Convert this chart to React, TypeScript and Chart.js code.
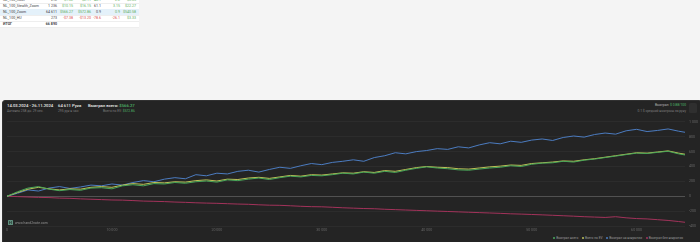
import React, { useEffect, useRef } from "react";
import { Chart, registerables } from "chart.js";
Chart.register(...registerables);

const hands = [
  0, 1000, 2000, 3000, 4000, 5000, 6000, 7000, 8000, 9000,
  10000, 11000, 12000, 13000, 14000, 15000, 16000, 17000, 18000, 19000,
  20000, 21000, 22000, 23000, 24000, 25000, 26000, 27000, 28000, 29000,
  30000, 31000, 32000, 33000, 34000, 35000, 36000, 37000, 38000, 39000,
  40000, 41000, 42000, 43000, 44000, 45000, 46000, 47000, 48000, 49000,
  50000, 51000, 52000, 53000, 54000, 55000, 56000, 57000, 58000, 59000,
  60000, 61000, 62000, 63000, 64000, 64611,
];

const wonTotal = [
  0, 60, 110, 130, 95, 75, 90, 80, 110, 115,
  100, 140, 155, 140, 170, 165, 185, 175, 195, 205,
  190, 220, 210, 230, 245, 225, 250, 270, 260, 280,
  275, 290, 310, 300, 325, 310, 335, 320, 350, 375,
  395, 380, 370, 355, 350, 365, 380, 390, 410, 400,
  430, 445, 450, 470, 460, 485, 500, 520, 540, 560,
  580, 575, 590, 605, 570, 555,
];

const evTotal = [
  0, 50, 95, 120, 100, 85, 100, 95, 120, 130,
  120, 150, 170, 160, 185, 180, 195, 190, 210, 220,
  205, 230, 225, 245, 255, 240, 260, 280, 270, 290,
  285, 300, 315, 310, 330, 320, 345, 335, 360, 385,
  400, 390, 385, 370, 365, 380, 395, 405, 420, 415,
  440, 450, 460, 475, 470, 490, 505, 525, 545, 565,
  585, 580, 595, 610, 580, 565,
];

const showdown = [
  0, 40, 85, 70, 110, 130, 105, 125, 150, 140,
  165, 150, 185, 210, 195, 230, 250, 235, 290, 275,
  310, 300, 335, 350, 325, 360, 390, 375, 410, 440,
  425, 455, 470, 490, 470, 520, 545, 585, 570, 600,
  615, 640, 630, 665, 650, 690, 720, 705, 740, 725,
  755, 770, 750, 790, 810, 795, 830, 850, 835, 880,
  900, 870, 885, 905, 875, 860,
];

const nonShowdown = [
  0, -5, -10, -15, -18, -25, -28, -35, -40, -45,
  -50, -52, -58, -65, -68, -72, -78, -82, -88, -92,
  -95, -100, -105, -108, -115, -120, -122, -128, -135, -140,
  -142, -148, -155, -160, -165, -168, -175, -180, -185, -190,
  -195, -200, -205, -210, -215, -220, -225, -230, -236, -240,
  -245, -250, -256, -262, -268, -275, -280, -285, -275, -290,
  -300, -305, -315, -325, -340, -350,
];

const seriesNames = ["Выиграл всего", "Всего по EV", "Выиграл на вскрытии", "Выиграл без вскрытия"];
const seriesColors = ["#4aa85a", "#bfc258", "#4c7cc0", "#a3335b"];
const seriesValues = [wonTotal, evTotal, showdown, nonShowdown];

const xTicks = [0, 10000, 20000, 30000, 40000, 50000, 60000];
const yTicks = [-400, -200, 0, 200, 400, 600, 800, 1000];

const fmt = (v: number) => {
  const s = Math.abs(v).toString().replace(/\B(?=(\d{3})+(?!\d))/g, " ");
  return (v < 0 ? "-" : "") + s;
};

const tableRows = [
  { name: "NL_100_Rush", hands: "212", c: ["$1.02", "$2.11", "48.1", "2.2", "$3.05"], cls: [1, 1, 1, 1, 1], hl: false, bold: false },
  { name: "NL_100_Stealth_Zoom", hands: "1 236", c: ["$10.15", "$16.15", "61.1", "3.15", "$22.27"], cls: [1, 1, 0, 1, 1], hl: false, bold: false },
  { name: "NL_100_Zoom", hands: "64 611", c: ["$566.27", "$572.86", "0.9", "0.9", "$540.58"], cls: [1, 1, 0, 1, 1], hl: true, bold: false },
  { name: "NL_100_HU", hands: "273", c: ["-$7.38", "-$13.20", "-78.6", "-26.1", "$3.33"], cls: [2, 2, 2, 2, 1], hl: false, bold: false },
  { name: "ИТОГ", hands: "66 890", c: ["", "", "", "", ""], cls: [0, 0, 0, 0, 0], hl: false, bold: true },
];
const colRight = [57, 73, 91, 101, 120, 136];

export default function App() {
  const ref = useRef<HTMLCanvasElement>(null);

  useEffect(() => {
    if (!ref.current) return;
    const chart = new Chart(ref.current, {
      type: "line",
      data: {
        datasets: seriesNames.map((name, i) => ({
          label: name,
          data: hands.map((h, j) => ({ x: h, y: seriesValues[i][j] })),
          borderColor: seriesColors[i],
          backgroundColor: seriesColors[i],
          borderWidth: 1,
          pointRadius: 0,
          tension: 0,
        })),
      },
      options: {
        animation: false,
        responsive: false,
        maintainAspectRatio: false,
        layout: { padding: { left: 5, right: 0, top: 0, bottom: 0 } },
        plugins: { legend: { display: false }, tooltip: { enabled: false } },
        scales: {
          x: {
            type: "linear",
            min: 0,
            max: 64611,
            grid: { display: false, drawTicks: false },
            border: { display: false },
            afterBuildTicks: (s: any) => { s.ticks = xTicks.map((v) => ({ value: v })); },
            afterFit: (s: any) => { s.height = 10; },
            ticks: {
              color: "#666",
              font: { family: "Roboto", size: 3.6 },
              padding: 2,
              maxRotation: 0,
              callback: (v: any) => fmt(Number(v)),
            },
          },
          y: {
            position: "right",
            min: -400,
            max: 1050,
            grid: {
              drawTicks: false,
              color: (c: any) => (c.tick && c.tick.value === 0 ? "#666" : "#313131"),
              lineWidth: 0.7,
            },
            border: { display: false },
            afterBuildTicks: (s: any) => { s.ticks = yTicks.map((v) => ({ value: v })); },
            afterFit: (s: any) => { s.width = 15; },
            ticks: {
              color: "#666",
              font: { family: "Roboto", size: 3.6 },
              padding: 4,
              callback: (v: any) => fmt(Number(v)),
            },
          },
        },
      },
    } as any);
    return () => chart.destroy();
  }, []);

  const clsColor = ["#444", "#5cae5c", "#d9534f"];
  const small = { position: "absolute" as const, fontSize: 3.3, lineHeight: "4px", color: "#7e7e7e", whiteSpace: "nowrap" as const };
  const big = { position: "absolute" as const, fontSize: 4.2, lineHeight: "5px", color: "#ececec", fontWeight: 500, whiteSpace: "nowrap" as const };

  return (
    <div style={{ position: "absolute", left: 0, top: 0, width: 700, height: 242, overflow: "hidden", background: "#f4f4f4", fontFamily: "Roboto, sans-serif" }}>
      <div style={{ position: "absolute", left: 0, top: 0, width: 139, height: 27, background: "#fff" }}>
        {tableRows.map((r, i) => {
          const top = -3 + i * 6;
          return (
            <div key={i} style={{ position: "absolute", left: 0, top, width: 139, height: 6, background: r.hl ? "#e4f1fa" : "transparent", borderBottom: "0.5px solid #eee" }}>
              <span style={{ position: "absolute", left: 3, top: 0.5, fontSize: 3.6, lineHeight: "5px", color: "#444", fontWeight: r.bold ? 700 : 400, whiteSpace: "nowrap" }}>{r.name}</span>
              <span style={{ position: "absolute", right: 139 - colRight[0], top: 0.5, fontSize: 3.6, lineHeight: "5px", color: "#444", fontWeight: r.bold ? 700 : 400, whiteSpace: "nowrap" }}>{r.hands}</span>
              {r.c.map((t, k) => (
                <span key={k} style={{ position: "absolute", right: 139 - colRight[k + 1], top: 0.5, fontSize: 3.6, lineHeight: "5px", color: clsColor[r.cls[k]], whiteSpace: "nowrap" }}>{t}</span>
              ))}
            </div>
          );
        })}
      </div>

      <div style={{ position: "absolute", left: 2, top: 100, width: 700, height: 145, background: "#242424", borderRadius: 3, border: "1px solid #313131", boxSizing: "border-box" }} />

      <div style={{ ...big, left: 7, top: 102.5 }}>14.03.2024 - 26.11.2024</div>
      <div style={{ ...small, left: 7, top: 108.5 }}>Активен 258 дн. 29 сес.</div>
      <div style={{ ...big, left: 58, top: 102.5 }}>64 611 Рука</div>
      <div style={{ ...small, left: 58, top: 108.5 }}>295 рук в час</div>
      <div style={{ ...big, left: 88, top: 102.5 }}>
        Выиграл всего: <span style={{ color: "#4fb86a" }}>$566.27</span>
      </div>
      <div style={{ ...small, left: 103, top: 108.5 }}>
        Всего по EV: <span style={{ color: "#4fb86a" }}>$572.86</span>
      </div>

      <div style={{ ...small, right: 14, top: 103, color: "#b5b5b5", textAlign: "right" }}>
        Выиграл: <span style={{ color: "#4fb86a" }}>$ 0.88/100</span>
      </div>
      <div style={{ ...small, right: 14, top: 108.5, textAlign: "right" }}>0.1 $ средний выигрыш за руку</div>
      <div style={{ position: "absolute", left: 689, top: 103, width: 8, height: 10, background: "#2f2f2f", borderRadius: 1.5 }} />

      <canvas ref={ref} width={698} height={124} style={{ position: "absolute", left: 2, top: 112, width: 698, height: 124 }} />

      <div style={{ position: "absolute", left: 8, top: 220, display: "flex", alignItems: "center", whiteSpace: "nowrap" }}>
        <div style={{ width: 5, height: 5, background: "#5f8f7e", color: "#1f2a26", fontSize: 4, lineHeight: "5px", textAlign: "center", fontWeight: 700, borderRadius: 0.5 }}>H</div>
        <span style={{ marginLeft: 2, fontSize: 3.3, color: "#9a9a9a", letterSpacing: 0.1 }}>www.hand2note.com</span>
      </div>

      <div style={{ position: "absolute", right: 17, top: 236, display: "flex", alignItems: "center", whiteSpace: "nowrap", fontSize: 3.2, lineHeight: "4px", color: "#9a9a9a" }}>
        {seriesNames.map((n, i) => (
          <span key={i} style={{ display: "flex", alignItems: "center", marginLeft: i ? 3.5 : 0 }}>
            <span style={{ display: "inline-block", width: 2, height: 2, borderRadius: 1, background: seriesColors[i], marginRight: 1.2 }} />
            {n}
          </span>
        ))}
      </div>
    </div>
  );
}
